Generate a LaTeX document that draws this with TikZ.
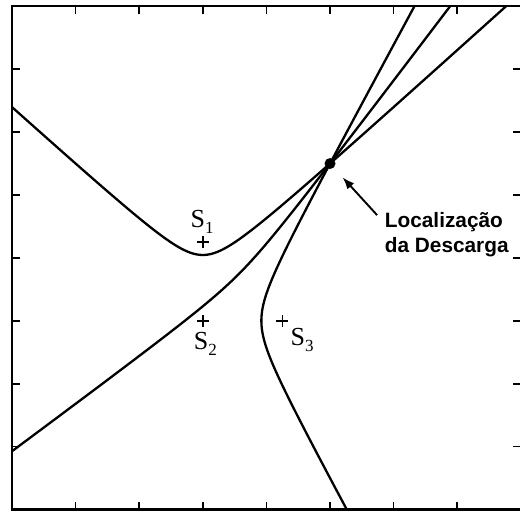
\documentclass[tikz,border=0pt]{standalone}
\usepackage{fontspec}
\setmainfont{Liberation Serif}
\newfontfamily\annotfont{Liberation Sans}
\usetikzlibrary{arrows.meta}
\newcommand{\sensorlabel}[1]{\fontsize{26}{26}\selectfont S\raisebox{-6pt}{\fontsize{17}{17}\selectfont #1}}
\begin{document}
\begin{tikzpicture}[x=63.6pt, y=62.9pt,
  frameline/.style={line width=2.3pt},
  hyp/.style={line width=2.3pt, line join=round},
  tickmark/.style={line width=1.7pt},
  sensor/.style={line width=1.5pt},
  slabel/.style={inner sep=0pt},
  pointer/.style={line width=1.9pt, -{Latex[length=12pt,width=9pt]}},
  annot/.style={inner sep=0pt, align=left, anchor=north west,
    font=\annotfont\bfseries\fontsize{20.8}{24.5}\selectfont}]
\useasboundingbox (-0.1887,-0.0397) rectangle (7.987,8.100);
\fill[white] (-0.1887,-0.0397) rectangle (7.987,8.100);
\draw[frameline] (0,0) rectangle (8,8);
\foreach \k in {1,...,7} {
  \draw[tickmark] (\k,0) -- ++(0,0.127);
  \draw[tickmark] (\k,8) -- ++(0,-0.127);
  \draw[tickmark] (0,\k) -- ++(0.126,0);
  \draw[tickmark] (8,\k) -- ++(-0.126,0);
}
\begin{scope}
\clip (0,0) rectangle (8,8);
% hyperbola S1-S2
\draw[hyp] plot[domain=-2.75:3.15, samples=200, smooth, variable=\t]
  ({3+0.46144*sinh(\t)}, {3.625+0.42153*cosh(\t)});
% hyperbola S2-S3
\draw[hyp] plot[domain=-2.5:3.0, samples=200, smooth, variable=\t]
  ({3.625+0.29574*cosh(\t)}, {3+0.55060*sinh(\t)});
% hyperbola S1-S3
\draw[hyp] plot[domain=-2.45:2.65, samples=200, smooth, variable=\t]
  ({3.625+(-0.12579*cosh(\t)+0.87489*sinh(\t))/1.41421},
   {3.625+(0.87489*sinh(\t)+0.12579*cosh(\t))/1.41421});
\end{scope}
\coordinate (s1) at (3,4.25);
\coordinate (s2) at (3,3);
\coordinate (s3) at (4.25,3);
\foreach \s in {s1,s2,s3} {
  \draw[sensor] (\s) ++(-6pt,0) -- ++(12pt,0);
  \draw[sensor] (\s) ++(0,-6pt) -- ++(0,12pt);
}
\node[slabel] (l1) at (2.99,4.57) {\sensorlabel{1}};
\node[slabel] (l2) at (3.04,2.64) {\sensorlabel{2}};
\node[slabel] (l3) at (4.56,2.69) {\sensorlabel{3}};
\node[circle, fill=black, inner sep=0pt, minimum size=11pt] (src) at (5,5.5) {};
\coordinate (tail) at (5.74,4.68);
\draw[pointer, shorten >=13pt] (tail) -- (src);
\node[annot] (lbl) at (5.86,4.72) {Localização\\da Descarga};
\end{tikzpicture}
\end{document}
